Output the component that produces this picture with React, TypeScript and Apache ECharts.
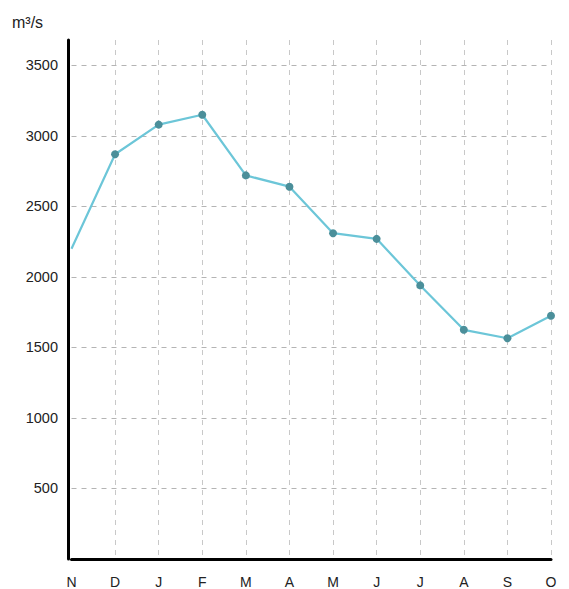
import React, { useEffect, useRef } from "react";
import * as echarts from "echarts";

const months = ["N", "D", "J", "F", "M", "A", "M", "J", "J", "A", "S", "O"];
const flow = [2200, 2870, 3080, 3150, 2720, 2640, 2310, 2270, 1940, 1625, 1565, 1725];
const unitLabel = "m³/s";

export default function App() {
  const ref = useRef<HTMLDivElement>(null);
  useEffect(() => {
    if (!ref.current) return;
    const chart = echarts.init(ref.current, null, { renderer: "svg" });
    const font = "'Liberation Sans', Arial, Helvetica, sans-serif";
    chart.setOption({
      animation: false,
      backgroundColor: "#ffffff",
      grid: { left: 71.5, right: 18, top: 40, bottom: 30, containLabel: false },
      graphic: [
        {
          type: "text",
          left: 12,
          top: 14,
          style: { text: unitLabel, font: `16px ${font}`, fill: "#222" },
        },
      ],
      xAxis: {
        type: "category",
        data: months,
        boundaryGap: false,
        axisLine: { lineStyle: { color: "#000", width: 3 } },
        axisTick: { show: false },
        axisLabel: { color: "#222", fontSize: 14, fontFamily: font, margin: 16 },
        splitLine: {
          show: true,
          showMinLine: false,
          lineStyle: { color: "#c8c8c8", type: [5, 5], width: 1 },
        },
      },
      yAxis: {
        type: "value",
        min: 0,
        max: 3680,
        interval: 500,
        offset: 3.5,
        axisLine: { show: true, lineStyle: { color: "#000", width: 3 } },
        axisTick: { show: false },
        axisLabel: {
          color: "#222",
          fontSize: 14.5,
          fontFamily: font,
          margin: 10,
          showMinLabel: false,
          showMaxLabel: false,
          formatter: (v: number) => String(v),
        },
        splitLine: {
          show: true,
          showMinLine: false,
          showMaxLine: false,
          lineStyle: { color: "#b4b4b4", type: [5, 5], width: 1 },
        },
      },
      series: [
        {
          type: "line",
          data: flow.map((v, i) => (i === 0 ? { value: v, symbolSize: 0 } : v)),
          symbol: "circle",
          symbolSize: 8,
          lineStyle: { color: "#6cc6d8", width: 2.2 },
          itemStyle: { color: "#4b8f9a" },
          z: 3,
        },
      ],
    });
    return () => chart.dispose();
  }, []);
  return <div ref={ref} style={{ width: 569, height: 589, position: "absolute", left: 0, top: 0 }} />;
}
